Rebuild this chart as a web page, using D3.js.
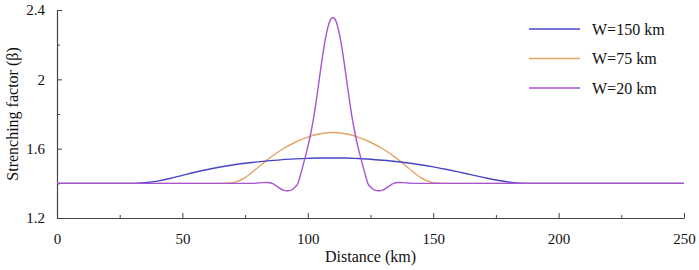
<!DOCTYPE html>
<html>
<head>
<meta charset="utf-8">
<script src="https://cdn.jsdelivr.net/npm/d3@7"></script>
<style>
  body { margin: 0; background: #fff; }
  text { font-family: "Liberation Serif", "Times New Roman", serif; fill: #111; }
</style>
</head>
<body>
<script>
/* DATA */
var xTicks = [0, 50, 100, 150, 200, 250];
var yTicks = [1.2, 1.6, 2, 2.4];
var seriesNames = ["W=150 km", "W=75 km", "W=20 km"];

// W=150 km
var w150X = [0, 30, 35, 40, 45, 50, 55, 60, 65, 70, 75, 80, 85, 90, 95, 100, 105, 110,
             115, 120, 125, 130, 135, 140, 145, 150, 155, 160, 165, 170, 175, 180, 185, 190, 250];
var w150Y = [1.4, 1.4, 1.403, 1.413, 1.428, 1.446, 1.464, 1.480, 1.494, 1.506, 1.516, 1.524, 1.531, 1.537, 1.541, 1.544, 1.546, 1.546,
             1.546, 1.543, 1.539, 1.533, 1.526, 1.517, 1.507, 1.495, 1.481, 1.466, 1.450, 1.434, 1.419, 1.408, 1.401, 1.4, 1.4];

// W=75 km
var w75X = [0, 65, 70, 72.5, 75, 80, 85, 90, 95, 100, 105, 110, 115, 120, 125, 130, 135, 140, 145, 147.5, 150, 155, 250];
var w75Y = [1.4, 1.4, 1.403, 1.415, 1.433, 1.490, 1.548, 1.598, 1.637, 1.667, 1.686, 1.693, 1.686, 1.667, 1.637, 1.598, 1.548, 1.490, 1.433, 1.415, 1.403, 1.4, 1.4];

// W=20 km
var w20X = [0, 78, 80, 82, 84, 86, 87, 88, 89, 90, 91, 92, 93, 94, 95, 96, 97, 98, 99, 100,
            101, 102, 103, 104, 105, 106, 107, 108, 109, 110, 111, 112, 113, 114, 115, 116, 117, 118, 119, 120,
            121, 122, 123, 124, 125, 126, 127, 128, 129, 130, 131, 132, 133, 134, 136, 138, 140, 142, 250];
var w20Y = [1.4, 1.4, 1.402, 1.404, 1.405, 1.398, 1.390, 1.380, 1.370, 1.362, 1.358, 1.357, 1.359, 1.366, 1.380, 1.398, 1.445, 1.498, 1.553, 1.610,
            1.676, 1.752, 1.840, 1.940, 2.045, 2.145, 2.232, 2.300, 2.343, 2.357, 2.343, 2.300, 2.232, 2.145, 2.045, 1.940, 1.840, 1.752, 1.676, 1.610,
            1.553, 1.498, 1.445, 1.398, 1.380, 1.366, 1.359, 1.357, 1.358, 1.362, 1.370, 1.380, 1.390, 1.398, 1.405, 1.404, 1.402, 1.4, 1.4];

var colors = ["#4646c4", "#e3a466", "#a454d4"];

/* LAYOUT */
var W = 699, H = 270;
var margin = {top: 10, right: 15, bottom: 52, left: 57};
var width = W - margin.left - margin.right,
    height = H - margin.top - margin.bottom;

var x = d3.scaleLinear().domain([0, 250]).range([0, width]);
var y = d3.scaleLinear().domain([1.2, 2.4]).range([height, 0]);

var svg = d3.select("body").append("svg")
    .attr("width", W)
    .attr("height", H)
  .append("g")
    .attr("transform", "translate(" + margin.left + "," + margin.top + ")");

// axes (ticks point inward)
var xMinor = svg.append("g")
    .attr("transform", "translate(0," + height + ")")
    .call(d3.axisBottom(x).tickValues([25, 75, 125, 175, 225]).tickSize(-3).tickFormat(""));
var xAxis = svg.append("g")
    .attr("transform", "translate(0," + height + ")")
    .call(d3.axisBottom(x).tickValues(xTicks).tickSize(-5).tickSizeOuter(0).tickPadding(15).tickFormat(d3.format("d")));
var yMinor = svg.append("g")
    .call(d3.axisLeft(y).tickValues([1.4, 1.8, 2.2]).tickSize(-3).tickFormat(""));
var yAxis = svg.append("g")
    .call(d3.axisLeft(y).tickValues(yTicks).tickSize(-5).tickSizeOuter(0).tickPadding(12).tickFormat(function(d) { return d; }));

[xAxis, yAxis].forEach(function(a) {
  a.attr("font-family", "Liberation Serif").attr("font-size", 15);
});
svg.selectAll(".domain").attr("stroke", "#444").attr("stroke-width", 1.2);
svg.selectAll(".tick line").attr("stroke", "#444");
svg.selectAll(".tick text").attr("fill", "#111");
xMinor.select(".domain").remove();
yMinor.select(".domain").remove();

// lines
var line = d3.line()
    .x(function(d) { return x(d[0]); })
    .y(function(d) { return y(d[1]); })
    .curve(d3.curveMonotoneX);

var series = [
  d3.zip(w150X, w150Y),
  d3.zip(w75X, w75Y),
  d3.zip(w20X, w20Y)
];

// draw orange first so purple/blue sit on top at the baseline
[1, 0, 2].forEach(function(i) {
  svg.append("path")
      .datum(series[i])
      .attr("fill", "none")
      .attr("stroke", colors[i])
      .attr("stroke-width", 1.4)
      .attr("d", line);
});

// legend
var legend = svg.append("g").attr("transform", "translate(" + (529 - margin.left) + "," + (29 - margin.top) + ")");
seriesNames.forEach(function(name, i) {
  var g = legend.append("g").attr("transform", "translate(0," + (i * 29.5) + ")");
  g.append("line").attr("x1", 0).attr("x2", 51).attr("y1", 0).attr("y2", 0)
      .attr("stroke", colors[i]).attr("stroke-width", 1.4);
  g.append("text").attr("x", 63).attr("y", 0).attr("dy", "0.35em")
      .style("font-size", "16px").text(name);
});

// axis titles
svg.append("text")
    .attr("transform", "rotate(-90)")
    .attr("x", -height / 2)
    .attr("y", 12 - margin.left)
    .attr("dy", "0.35em")
    .style("text-anchor", "middle")
    .style("font-size", "16px")
    .text("Strenching factor (β)");

svg.append("text")
    .attr("x", width / 2)
    .attr("y", height + 44)
    .style("text-anchor", "middle")
    .style("font-size", "16px")
    .text("Distance (km)");
</script>
</body>
</html>
